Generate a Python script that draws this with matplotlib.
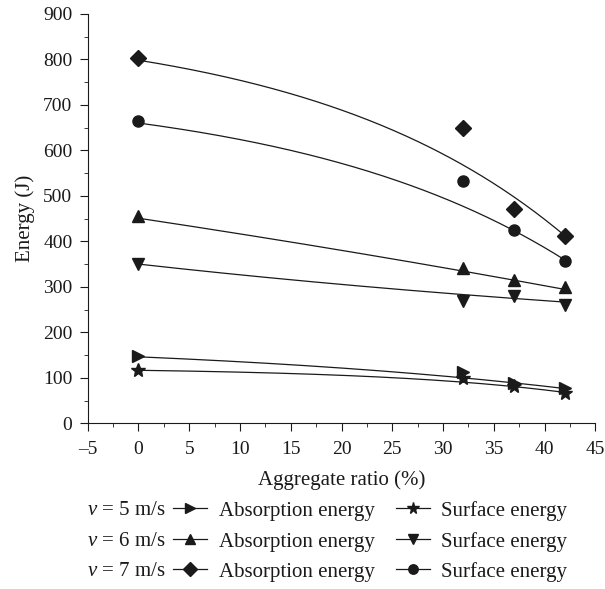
import numpy as np
import matplotlib
matplotlib.use("Agg")
import matplotlib.pyplot as plt
from matplotlib.lines import Line2D
from matplotlib.ticker import MultipleLocator

plt.rcParams["font.family"] = ["Liberation Serif", "DejaVu Serif"]
plt.rcParams["mathtext.fontset"] = "custom"
plt.rcParams["mathtext.it"] = "Liberation Serif:italic"
plt.rcParams["mathtext.rm"] = "Liberation Serif"

INK = "#1a1a1a"

# aggregate ratio (%) of the tested mixes
ratio = [0, 32, 37, 42]

abs_v5 = [147, 113, 88, 77]
surf_v5 = [118, 99, 81, 66]
abs_v6 = [455, 342, 315, 300]
surf_v6 = [351, 270, 279, 260]
abs_v7 = [803, 650, 472, 412]
surf_v7 = [664, 532, 426, 357]

# fitted trend curves at these ratios
trend_x = [0, 18, 30, 37, 42]
trend_abs_v5 = [146, 125, 104, 88, 77]
trend_surf_v5 = [117, 106, 95, 80, 68]
trend_abs_v6 = [451, 387, 345, 311, 296]
trend_surf_v6 = [350, 310, 285, 276, 266]
trend_abs_v7 = [800, 700, 593, 501, 410]
trend_surf_v7 = [662, 579, 498, 426, 357]

speeds = ["5", "6", "7"]

series = [
    (abs_v5, trend_abs_v5, ">", 8.5),
    (surf_v5, trend_surf_v5, "*", 10),
    (abs_v6, trend_abs_v6, "^", 8.5),
    (surf_v6, trend_surf_v6, "v", 8.5),
    (abs_v7, trend_abs_v7, "D", 7.8),
    (surf_v7, trend_surf_v7, "o", 8),
]


def exp_fit(x, y):
    """Least-squares fit of y = a + b*exp(c*x), grid search over c."""
    x = np.asarray(x, float)
    y = np.asarray(y, float)
    best = None
    for c in np.linspace(-0.15, 0.15, 1201):
        if abs(c) < 1e-4:
            continue
        A = np.column_stack([np.ones_like(x), np.exp(c * x)])
        coef, *_ = np.linalg.lstsq(A, y, rcond=None)
        err = np.sum((A @ coef - y) ** 2)
        if best is None or err < best[0]:
            best = (err, coef[0], coef[1], c)
    _, a, b, c = best
    return lambda t: a + b * np.exp(c * t)


fig = plt.figure(figsize=(6.05, 5.89), dpi=100)
ax = fig.add_axes([0.145, 0.2813, 0.839, 0.695])

xs = np.linspace(min(ratio), max(ratio), 200)
for vals, trend, mk, ms in series:
    f = exp_fit(trend_x, trend)
    ax.plot(xs, f(xs), color=INK, lw=0.9)
    ax.plot(ratio, vals, linestyle="none", marker=mk, color=INK, ms=ms)

ax.set_xlim(-5, 45)
ax.set_ylim(0, 900)
ax.xaxis.set_major_locator(MultipleLocator(5))
ax.xaxis.set_minor_locator(MultipleLocator(2.5))
ax.yaxis.set_major_locator(MultipleLocator(100))
ax.yaxis.set_minor_locator(MultipleLocator(50))
ax.spines["top"].set_visible(False)
ax.spines["right"].set_visible(False)
for sp in ("left", "bottom"):
    ax.spines[sp].set_color(INK)
ax.tick_params(which="both", direction="out", labelsize=14, colors=INK)
ax.tick_params(which="major", length=5.5)
ax.tick_params(which="minor", length=3)
ax.tick_params(axis="x", which="major", pad=7)
ax.tick_params(axis="y", which="major", pad=5.5)
ax.set_xticks(ax.get_xticks())
ax.set_xticklabels([f"{int(t)}".replace("-", "\u2013") for t in ax.get_xticks()])
ax.set_xlim(-5, 45)
ax.set_xlabel("Aggregate ratio (%)", fontsize=15, labelpad=9, color=INK)
ax.set_ylabel("Energy (J)", fontsize=15, labelpad=6, color=INK)

# legend block: one row per impact speed
row_y = [1 - 510.7 / 589, 1 - 541.7 / 589, 1 - 571.7 / 589]
for i, (s, yy) in enumerate(zip(speeds, row_y)):
    fig.text(166 / 605, yy, f"$v$ = {s} m/s", ha="right", va="center",
             fontsize=15, color=INK)
    hs = []
    for vals, trend, mk, ms in series[2 * i:2 * i + 2]:
        hs.append(Line2D([], [], color=INK, lw=0.9, marker=mk, ms=ms * 0.85))
    fig.legend(hs, ["Absorption energy", "Surface energy"], ncol=2, frameon=False,
               loc="center left", bbox_to_anchor=(173 / 605, yy), fontsize=15,
               handlelength=1.65, handletextpad=0.55, columnspacing=1.0,
               borderpad=0, borderaxespad=0, labelcolor=INK)

fig.savefig("out.png", dpi=100)
